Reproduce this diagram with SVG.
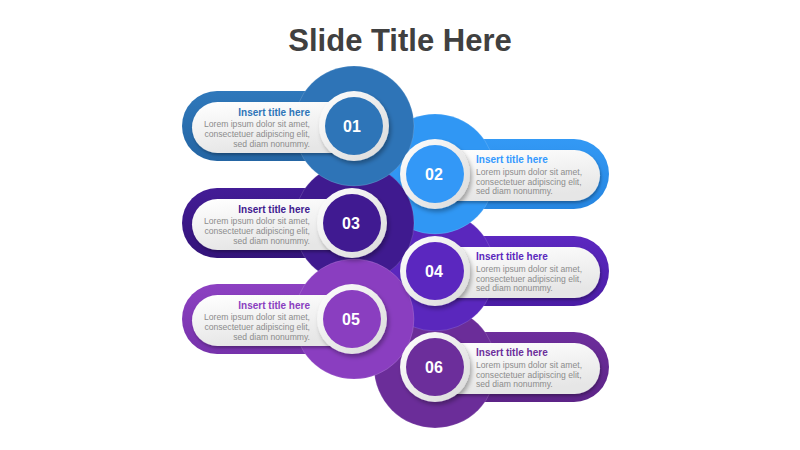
<svg xmlns="http://www.w3.org/2000/svg" width="800" height="450" viewBox="0 0 800 450">
<defs>
<style>
.ttl{font-family:"Liberation Sans",Arial,sans-serif;font-weight:bold;font-size:31px;fill:#404040}
.ht{font-family:"Liberation Sans",Arial,sans-serif;font-weight:bold;font-size:10px}
.bt{font-family:"Liberation Sans",Arial,sans-serif;font-size:8.6px;fill:#8c8c8c}
.num{font-family:"Liberation Sans",Arial,sans-serif;font-weight:bold;font-size:16px;fill:#ffffff}
.big{stroke:#ffffff;stroke-opacity:0.18;stroke-width:0.8}
.wp{fill:url(#wg);filter:url(#sh)}
.ring{fill:url(#rg);filter:url(#sh2)}
</style>
<linearGradient id="wg" x1="0" y1="0" x2="0.3" y2="1">
<stop offset="0" stop-color="#ffffff"/><stop offset="1" stop-color="#e6e6e6"/>
</linearGradient>
<linearGradient id="rg" x1="0" y1="0" x2="1" y2="1">
<stop offset="0" stop-color="#ffffff"/><stop offset="1" stop-color="#d9d9d9"/>
</linearGradient>
<linearGradient id="g1" x1="0" y1="0" x2="0" y2="1"><stop offset="0" stop-color="#2f78bb"/><stop offset="1" stop-color="#2465a3"/></linearGradient>
<linearGradient id="g2" x1="0" y1="0" x2="0" y2="1"><stop offset="0" stop-color="#3399f5"/><stop offset="1" stop-color="#2585e0"/></linearGradient>
<linearGradient id="g3" x1="0" y1="0" x2="0" y2="1"><stop offset="0" stop-color="#431c96"/><stop offset="1" stop-color="#331379"/></linearGradient>
<linearGradient id="g4" x1="0" y1="0" x2="0" y2="1"><stop offset="0" stop-color="#5c28c0"/><stop offset="1" stop-color="#4a1ca5"/></linearGradient>
<linearGradient id="g5" x1="0" y1="0" x2="0" y2="1"><stop offset="0" stop-color="#8d41c2"/><stop offset="1" stop-color="#7632ab"/></linearGradient>
<linearGradient id="g6" x1="0" y1="0" x2="0" y2="1"><stop offset="0" stop-color="#6d2e9c"/><stop offset="1" stop-color="#5c2387"/></linearGradient>
<filter id="sh" x="-10%" y="-20%" width="120%" height="150%">
<feDropShadow dx="1" dy="2" stdDeviation="1.5" flood-color="#000" flood-opacity="0.3"/>
</filter>
<filter id="sh2" x="-20%" y="-20%" width="150%" height="150%">
<feDropShadow dx="2" dy="3" stdDeviation="2" flood-color="#000" flood-opacity="0.3"/>
</filter>
</defs>
<rect width="800" height="450" fill="#ffffff"/>
<text class="ttl" x="400" y="51" text-anchor="middle">Slide Title Here</text>

<g id="bands">
<g id="band6"><rect x="400" y="332" width="209" height="70" rx="35" fill="url(#g6)"/><circle class="big" cx="435" cy="367" r="61" fill="#6b2d99"/></g>
<g id="band4"><rect x="400" y="236" width="209" height="70" rx="35" fill="url(#g4)"/><circle class="big" cx="435" cy="271" r="60" fill="#5a27bd"/></g>
<g id="band2"><rect x="400" y="139" width="209" height="70" rx="35" fill="url(#g2)"/><circle class="big" cx="435" cy="174" r="60" fill="#3097f4"/></g>
<g id="band3"><rect x="182" y="188" width="208" height="70" rx="35" fill="url(#g3)"/><circle class="big" cx="354" cy="223" r="60" fill="#3f1a8f"/></g>
<g id="band1"><rect x="182" y="91" width="208" height="70" rx="35" fill="url(#g1)"/><circle class="big" cx="354" cy="126" r="60" fill="#2e74b7"/></g>
<g id="band5"><rect x="182" y="284" width="208" height="70" rx="35" fill="url(#g5)"/><circle class="big" cx="354" cy="319" r="60" fill="#8a3ec0"/></g>
</g>

<g id="node1">
<rect class="wp" x="192" y="102" width="180" height="51" rx="25.5"/>
<circle class="ring" cx="354" cy="126" r="35"/>
<circle cx="354" cy="126" r="29" fill="#2e75b8"/>
<text class="num" x="352" y="132" text-anchor="middle">01</text>
<text class="ht" x="310" y="115.5" text-anchor="end" fill="#2e75b8">Insert title here</text>
<text class="bt" x="310" y="126.5" text-anchor="end">Lorem ipsum dolor sit amet,</text>
<text class="bt" x="310" y="136.5" text-anchor="end">consectetuer adipiscing elit,</text>
<text class="bt" x="310" y="146.5" text-anchor="end">sed diam nonummy.</text>
</g>

<g id="node2">
<rect class="wp" x="415" y="150" width="185" height="51" rx="25.5"/>
<circle class="ring" cx="435" cy="174" r="35"/>
<circle cx="435" cy="174" r="29" fill="#3398f7"/>
<text class="num" x="434" y="180" text-anchor="middle">02</text>
<text class="ht" x="476" y="163" fill="#3399ff">Insert title here</text>
<text class="bt" x="476" y="175" >Lorem ipsum dolor sit amet,</text>
<text class="bt" x="476" y="184.5">consectetuer adipiscing elit,</text>
<text class="bt" x="476" y="194">sed diam nonummy.</text>
</g>

<g id="node3">
<rect class="wp" x="192" y="199" width="180" height="51" rx="25.5"/>
<circle class="ring" cx="352" cy="223" r="35"/>
<circle cx="352" cy="223" r="29" fill="#401a91"/>
<text class="num" x="351" y="229" text-anchor="middle">03</text>
<text class="ht" x="310" y="212.5" text-anchor="end" fill="#3f1a8f">Insert title here</text>
<text class="bt" x="310" y="223.5" text-anchor="end">Lorem ipsum dolor sit amet,</text>
<text class="bt" x="310" y="233.5" text-anchor="end">consectetuer adipiscing elit,</text>
<text class="bt" x="310" y="243.5" text-anchor="end">sed diam nonummy.</text>
</g>

<g id="node4">
<rect class="wp" x="415" y="247" width="185" height="51" rx="25.5"/>
<circle class="ring" cx="435" cy="271" r="35"/>
<circle cx="435" cy="271" r="29" fill="#5b27bf"/>
<text class="num" x="434" y="277" text-anchor="middle">04</text>
<text class="ht" x="476" y="260" fill="#5a27bd">Insert title here</text>
<text class="bt" x="476" y="272">Lorem ipsum dolor sit amet,</text>
<text class="bt" x="476" y="281.5">consectetuer adipiscing elit,</text>
<text class="bt" x="476" y="291">sed diam nonummy.</text>
</g>

<g id="node5">
<rect class="wp" x="192" y="295" width="180" height="51" rx="25.5"/>
<circle class="ring" cx="352" cy="319" r="35"/>
<circle cx="352" cy="319" r="29" fill="#8a3ec0"/>
<text class="num" x="351" y="325" text-anchor="middle">05</text>
<text class="ht" x="310" y="308.5" text-anchor="end" fill="#8a3ec0">Insert title here</text>
<text class="bt" x="310" y="319.5" text-anchor="end">Lorem ipsum dolor sit amet,</text>
<text class="bt" x="310" y="329.5" text-anchor="end">consectetuer adipiscing elit,</text>
<text class="bt" x="310" y="339.5" text-anchor="end">sed diam nonummy.</text>
</g>

<g id="node6">
<rect class="wp" x="415" y="343" width="185" height="51" rx="25.5"/>
<circle class="ring" cx="435" cy="367" r="35"/>
<circle cx="435" cy="367" r="29" fill="#6c2e9b"/>
<text class="num" x="434" y="373" text-anchor="middle">06</text>
<text class="ht" x="476" y="356" fill="#6c2e9b">Insert title here</text>
<text class="bt" x="476" y="368">Lorem ipsum dolor sit amet,</text>
<text class="bt" x="476" y="377.5">consectetuer adipiscing elit,</text>
<text class="bt" x="476" y="387">sed diam nonummy.</text>
</g>
</svg>
